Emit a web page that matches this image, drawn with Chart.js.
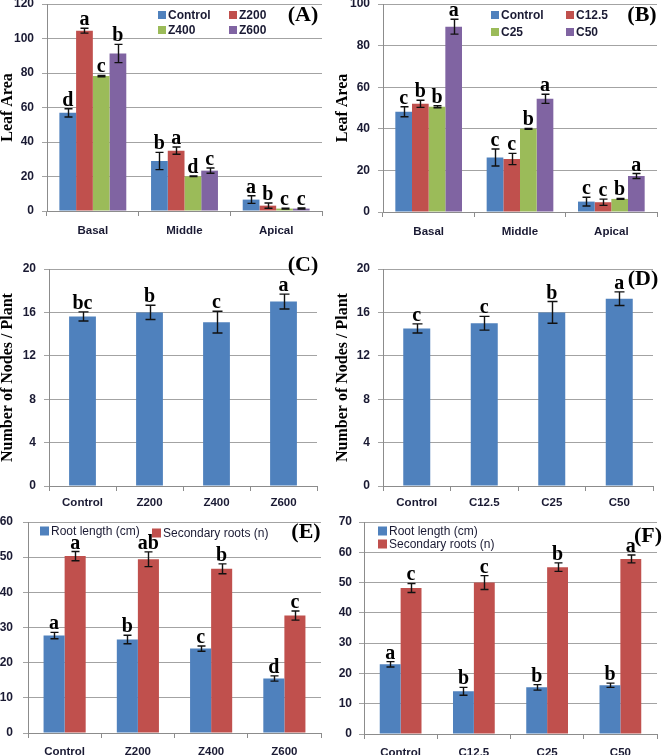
<!DOCTYPE html>
<html><head><meta charset="utf-8">
<script src="https://cdn.jsdelivr.net/npm/chart.js@4.4.1/dist/chart.umd.min.js"></script>
<style>
html,body{margin:0;padding:0;background:#fff;width:664px;height:755px;overflow:hidden}
.p{position:absolute}
canvas{display:block}
</style></head><body>
<div class="p" style="left:0;top:0"><canvas id="cA" width="332" height="250"></canvas></div>
<div class="p" style="left:332px;top:0"><canvas id="cB" width="332" height="250"></canvas></div>
<div class="p" style="left:0;top:250px"><canvas id="cC" width="332" height="260"></canvas></div>
<div class="p" style="left:332px;top:250px"><canvas id="cD" width="332" height="260"></canvas></div>
<div class="p" style="left:0;top:505px"><canvas id="cE" width="332" height="250"></canvas></div>
<div class="p" style="left:332px;top:505px"><canvas id="cF" width="332" height="250"></canvas></div>
<script>
// ---------- DATA ----------
const leafCategories = ['Basal', 'Middle', 'Apical'];
const zTreatments = ['Control', 'Z200', 'Z400', 'Z600'];
const cTreatments = ['Control', 'C12.5', 'C25', 'C50'];

// (A) Leaf area, Z treatments
const aControl = [56.9, 29.0, 6.6];
const aZ200 = [104.5, 35.0, 3.1];
const aZ400 = [78.2, 20.1, 1.4];
const aZ600 = [91.3, 23.4, 1.4];
const aControlErr = [2.4, 5.0, 2.2];
const aZ200Err = [1.4, 2.1, 1.5];
const aZ400Err = [0.4, 0.2, 0.2];
const aZ600Err = [5.3, 1.5, 0.3];
const aControlLet = ['d', 'b', 'a'];
const aZ200Let = ['a', 'a', 'b'];
const aZ400Let = ['c', 'd', 'c'];
const aZ600Let = ['b', 'c', 'c'];

// (B) Leaf area, C treatments
const bControl = [48.2, 26.2, 5.0];
const bC125 = [52.0, 25.5, 4.7];
const bC25 = [50.6, 40.0, 6.3];
const bC50 = [89.1, 54.4, 17.3];
const bControlErr = [2.4, 4.1, 2.1];
const bC125Err = [1.7, 2.7, 1.5];
const bC25Err = [0.5, 0.2, 0.2];
const bC50Err = [3.6, 2.2, 1.2];
const bControlLet = ['c', 'c', 'c'];
const bC125Let = ['b', 'c', 'c'];
const bC25Let = ['b', 'b', 'b'];
const bC50Let = ['a', 'a', 'a'];

// (C) Nodes per plant, Z treatments
const cNodes = [15.63, 16.0, 15.1, 17.0];
const cNodesErr = [0.42, 0.66, 1.0, 0.68];
const cNodesLet = ['bc', 'b', 'c', 'a'];

// (D) Nodes per plant, C treatments
const dNodes = [14.52, 15.0, 16.0, 17.26];
const dNodesErr = [0.42, 0.63, 1.0, 0.63];
const dNodesLet = ['c', 'c', 'b', 'a'];

// (E) Roots, Z treatments
const eRootLength = [27.7, 26.6, 24.0, 15.5];
const eRootLengthErr = [0.9, 1.2, 0.75, 0.75];
const eRootLengthLet = ['a', 'b', 'c', 'd'];
const eSecondary = [50.3, 49.4, 46.7, 33.4];
const eSecondaryErr = [1.3, 2.1, 1.4, 1.3];
const eSecondaryLet = ['a', 'ab', 'b', 'c'];

// (F) Roots, C treatments
const fRootLength = [23.0, 14.1, 15.4, 16.1];
const fRootLengthErr = [0.9, 1.3, 0.9, 0.7];
const fRootLengthLet = ['a', 'b', 'b', 'b'];
const fSecondary = [48.2, 50.0, 55.1, 57.8];
const fSecondaryErr = [1.5, 2.3, 1.4, 1.3];
const fSecondaryLet = ['c', 'c', 'b', 'a'];

// ---------- STYLE ----------
const BLUE = '#4F81BD', RED = '#C0504D', GREEN = '#9BBB59', PURPLE = '#8064A2';
const GRID = '#a3a3a3', AXIS = '#8c8c8c', TICKC = '#1a1a33';

const annot = {
  id: 'annot',
  afterDatasetsDraw(chart, args, o) {
    const ctx = chart.ctx, ys = chart.scales.y;
    ctx.save();
    chart.data.datasets.forEach((ds, i) => {
      const meta = chart.getDatasetMeta(i);
      meta.data.forEach((bar, j) => {
        const v = ds.data[j], e = ds.errors[j];
        const x = Math.round(bar.x) + 0.5;
        const yt = ys.getPixelForValue(v + e), yb = ys.getPixelForValue(Math.max(0, v - e));
        ctx.strokeStyle = '#111'; ctx.lineWidth = 1.4;
        ctx.beginPath();
        ctx.moveTo(x, yt); ctx.lineTo(x, yb);
        ctx.moveTo(x - o.cap, yt); ctx.lineTo(x + o.cap, yt);
        ctx.moveTo(x - o.cap, yb); ctx.lineTo(x + o.cap, yb);
        ctx.stroke();
        ctx.fillStyle = '#000';
        ctx.font = 'bold 20px "Liberation Serif"';
        ctx.textAlign = 'center'; ctx.textBaseline = 'alphabetic';
        ctx.fillText(ds.letters[j], bar.x, yt - 3);
      });
    });
    // panel tag
    ctx.fillStyle = '#000';
    ctx.font = 'bold 22px "Liberation Serif"';
    ctx.textAlign = 'center'; ctx.textBaseline = 'middle';
    ctx.fillText(o.tag, o.tagX, o.tagY);
    // legend
    ctx.font = o.legendFont;
    ctx.textAlign = 'left'; ctx.textBaseline = 'middle';
    chart.data.datasets.forEach((ds, i) => {
      const p = o.legendPos[i];
      if (!o.sq) return;
      ctx.fillStyle = ds.backgroundColor;
      ctx.fillRect(p[0], p[1] - o.sq / 2, o.sq, o.sq);
      ctx.fillStyle = TICKC;
      ctx.fillText(ds.label, p[0] + o.sq + 2, p[1] + 1);
    });
    ctx.restore();
  }
};

function makeChart(id, labels, datasets, s) {
  const canvas = document.getElementById(id);
  return new Chart(canvas, {
    type: 'bar',
    data: { labels, datasets },
    plugins: [annot],
    options: {
      responsive: false,
      animation: false,
      layout: { padding: { left: 0, top: s.top, right: s.right, bottom: 0 } },
      datasets: { bar: { categoryPercentage: s.catPct, barPercentage: s.barPct, borderWidth: 0 } },
      plugins: {
        legend: { display: false },
        tooltip: { enabled: false },
        annot: s.annot
      },
      scales: {
        x: {
          grid: { display: true, drawOnChartArea: false, drawTicks: true, tickLength: 5, color: AXIS, offset: true },
          border: { color: AXIS, width: 1 },
          ticks: { color: TICKC, font: { family: 'Liberation Sans', size: 11.5, weight: 'bold' }, padding: s.xPad, maxRotation: 0, autoSkip: false },
          afterFit(sc) { sc.height = s.xHeight; sc.paddingLeft = 0; sc.paddingRight = 0; }
        },
        y: {
          min: 0, max: s.max,
          ticks: { stepSize: s.step, color: TICKC, font: { family: 'Liberation Sans', size: 12, weight: 'bold' }, padding: s.yPad },
          grid: { color: GRID, lineWidth: 1, tickLength: 5 },
          border: { color: AXIS, width: 1 },
          title: s.title ? { display: true, text: s.title, color: '#000', padding: { top: s.titlePad, bottom: 0 },
                   font: { family: 'Liberation Serif', size: 16, weight: 'bold', lineHeight: 1 } } : { display: false },
          afterFit(sc) { sc.width = s.yWidth; sc.paddingTop = 0; sc.paddingBottom = 0; }
        }
      }
    }
  });
}

const boldLegend = 'bold 12px "Liberation Sans"';
const plainLegend = '12px "Liberation Sans"';

// (A)
makeChart('cA', leafCategories, [
  { label: zTreatments[0], data: aControl, errors: aControlErr, letters: aControlLet, backgroundColor: BLUE },
  { label: zTreatments[1], data: aZ200, errors: aZ200Err, letters: aZ200Let, backgroundColor: RED },
  { label: zTreatments[2], data: aZ400, errors: aZ400Err, letters: aZ400Let, backgroundColor: GREEN },
  { label: zTreatments[3], data: aZ600, errors: aZ600Err, letters: aZ600Let, backgroundColor: PURPLE }
], { top: 4, right: 10, xHeight: 39, yWidth: 47, max: 120, step: 20, catPct: 0.73, barPct: 1, xPad: 8, yPad: 8,
     title: 'Leaf Area', titlePad: 0,
     annot: { cap: 4, tag: '(A)', tagX: 303, tagY: 15, legendFont: boldLegend, sq: 8,
              legendPos: [[158, 15], [229, 15], [158, 30], [229, 30]] } });

// (B)
makeChart('cB', leafCategories, [
  { label: cTreatments[0], data: bControl, errors: bControlErr, letters: bControlLet, backgroundColor: BLUE },
  { label: cTreatments[1], data: bC125, errors: bC125Err, letters: bC125Let, backgroundColor: RED },
  { label: cTreatments[2], data: bC25, errors: bC25Err, letters: bC25Let, backgroundColor: GREEN },
  { label: cTreatments[3], data: bC50, errors: bC50Err, letters: bC50Let, backgroundColor: PURPLE }
], { top: 4, right: 7, xHeight: 38, yWidth: 51, max: 100, step: 20, catPct: 0.73, barPct: 1, xPad: 8, yPad: 8,
     title: 'Leaf Area', titlePad: 3,
     annot: { cap: 4, tag: '(B)', tagX: 310, tagY: 15, legendFont: boldLegend, sq: 8,
              legendPos: [[159, 15], [234, 15], [159, 32], [234, 32]] } });

// (C)
makeChart('cC', zTreatments, [
  { label: 'Nodes', data: cNodes, errors: cNodesErr, letters: cNodesLet, backgroundColor: BLUE }
], { top: 19, right: 15, xHeight: 24, yWidth: 49, max: 20, step: 4, catPct: 1, barPct: 0.4, xPad: 5, yPad: 8,
     title: 'Number of Nodes / Plant', titlePad: 0,
     annot: { cap: 5, tag: '(C)', tagX: 303, tagY: 15, legendFont: boldLegend, sq: 0, legendPos: [[0, 0]] } });

// (D)
makeChart('cD', cTreatments, [
  { label: 'Nodes', data: dNodes, errors: dNodesErr, letters: dNodesLet, backgroundColor: BLUE }
], { top: 19, right: 11, xHeight: 24, yWidth: 51, max: 20, step: 4, catPct: 1, barPct: 0.4, xPad: 5, yPad: 8,
     title: 'Number of Nodes / Plant', titlePad: 3,
     annot: { cap: 5, tag: '(D)', tagX: 311, tagY: 29, legendFont: boldLegend, sq: 0, legendPos: [[0, 0]] } });

// (E)
makeChart('cE', zTreatments, [
  { label: 'Root length (cm)', data: eRootLength, errors: eRootLengthErr, letters: eRootLengthLet, backgroundColor: BLUE },
  { label: 'Secondary roots (n)', data: eSecondary, errors: eSecondaryErr, letters: eSecondaryLet, backgroundColor: RED }
], { top: 17, right: 11, xHeight: 22, yWidth: 28, max: 60, step: 10, catPct: 0.575, barPct: 1, xPad: 7, yPad: 10,
     title: null, titlePad: 0,
     annot: { cap: 4, tag: '(E)', tagX: 306, tagY: 27, legendFont: plainLegend, sq: 9,
              legendPos: [[40, 26], [152, 28]] } });

// (F)
makeChart('cF', cTreatments, [
  { label: 'Root length (cm)', data: fRootLength, errors: fRootLengthErr, letters: fRootLengthLet, backgroundColor: BLUE },
  { label: 'Secondary roots (n)', data: fSecondary, errors: fSecondaryErr, letters: fSecondaryLet, backgroundColor: RED }
], { top: 17, right: 7, xHeight: 21, yWidth: 32, max: 70, step: 10, catPct: 0.57, barPct: 1, xPad: 7, yPad: 7,
     title: null, titlePad: 0,
     annot: { cap: 4, tag: '(F)', tagX: 316, tagY: 31, legendFont: plainLegend, sq: 9,
              legendPos: [[46, 26], [46, 39]] } });
</script>
</body></html>
